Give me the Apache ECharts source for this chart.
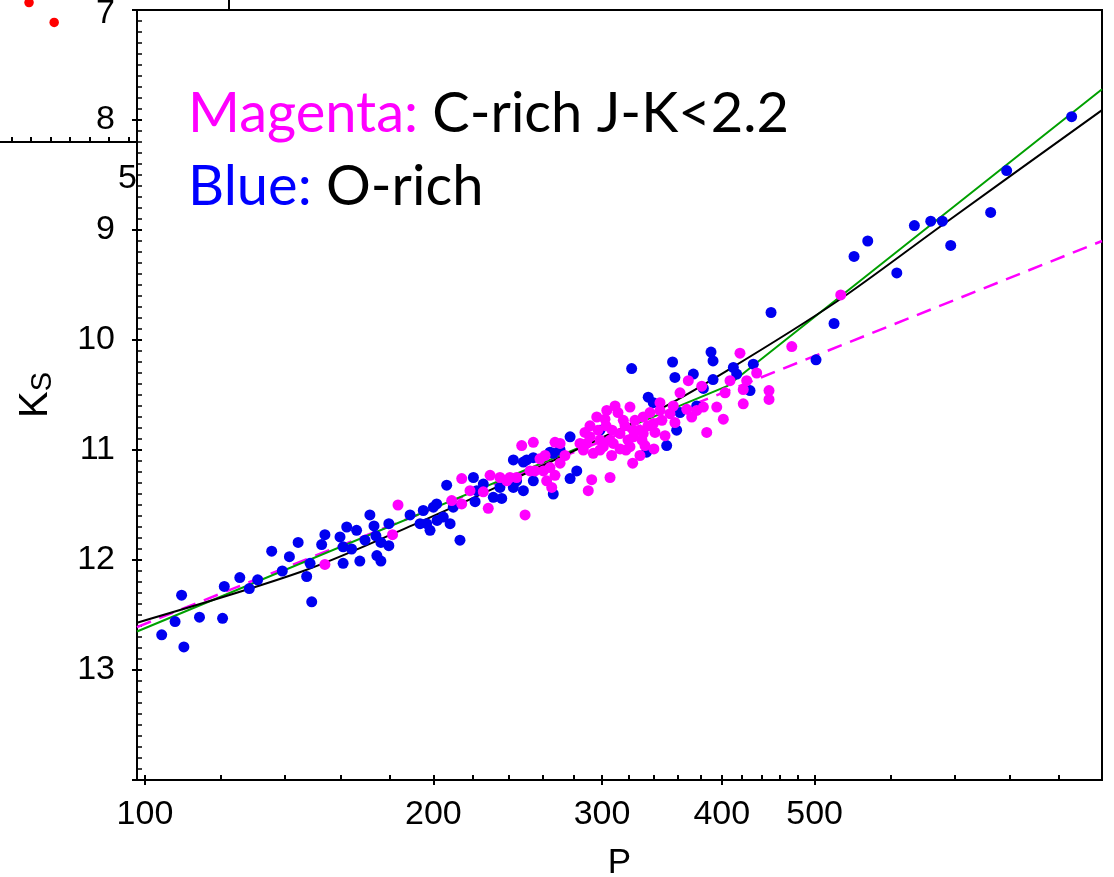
<!DOCTYPE html>
<html><head><meta charset="utf-8">
<script src="https://cdn.jsdelivr.net/npm/echarts@6/dist/echarts.min.js"></script>
<style>html,body{margin:0;padding:0;background:#fff}#c{width:1114px;height:877px}</style>
</head><body><div id="c"></div>
<script>
// ---- axis ticks ----
const periodMajorTicks = [100, 200, 300, 400, 500];
const periodMinorTicks = [120,140,160,180,220,240,260,280,320,340,360,380,420,440,460,480,600,700,800,900];
const ksTicks = [8, 9, 10, 11, 12, 13];   // 7 is drawn separately (its label sits partly off the top edge)

// ---- O-rich (blue) ----
const oRichP = [104.1,107.5,109.2,109.8,114.0,120.5,121.0,125.6,128.5,131.1,135.6,139.1,141.5,144.5,147.5,149.3,148.7,152.9,154.1,159.8,161.0,162.4,166.3,167.6,164.3,161.0,171.7,173.4,174.2,176.3,179.7,179.7,174.6,176.3,189.1,195.2,196.8,198.4,201.6,204.8,208.2,209.8,213.2,206.5,200.0,193.7,221.1,220.2,222.0,225.5,231.0,234.7,242.4,242.4,244.3,248.3,248.3,254.3,254.3,266.8,264.7,271.2,277.8,282.3,277.8,266.8,235.7,250.3,298.5,333.9,350.4,358.9,339.3,335.2,322.1,355.4,357.4,389.8,391.7,391.7,373.6,411.3,431.5,414.6,428.1,382.7,376.6,361.8,450.3,501.7,523.9,549.7,568.1,609.2,635.5,661.0,679.7,693.5,763.4,793.3,927.4,201.8,169.7];
const oRichK = [12.68,12.56,12.32,12.79,12.52,12.53,12.24,12.16,12.26,12.18,11.92,12.10,11.97,11.84,12.15,12.38,12.03,11.86,11.77,11.79,12.03,11.70,11.73,12.01,11.90,11.88,11.59,11.69,11.78,11.84,11.67,11.87,11.96,12.01,11.59,11.55,11.67,11.73,11.49,11.61,11.67,11.52,11.82,11.32,11.52,11.67,11.47,11.25,11.37,11.31,11.43,11.34,11.34,11.09,11.28,11.37,11.11,11.07,11.28,11.40,11.02,11.00,10.88,11.19,11.26,11.03,11.44,11.09,10.82,11.02,10.96,10.82,10.57,10.52,10.26,10.20,10.34,10.11,10.19,10.36,10.31,10.25,10.22,10.31,10.46,10.44,10.60,10.66,9.75,10.18,9.85,9.24,9.10,9.39,8.96,8.92,8.92,9.14,8.84,8.46,7.97,11.64,11.82];

// ---- C-rich J-K<2.2 (magenta) ----
const cRichP = [154.1,181.3,183.7,209.0,214.1,218.4,214.1,225.5,228.2,229.2,234.7,240.4,249.3,247.3,254.3,267.9,271.2,258.4,264.7,260.5,255.3,262.6,265.8,244.3,238.6,271.2,284.5,291.4,296.2,303.4,320.8,315.7,328.6,308.2,293.7,286.8,300.9,313.2,323.4,331.2,344.8,353.2,356.0,322.9,305.8,292.6,290.2,339.8,289.1,307.0,298.5,336.6,339.3,320.8,331.2,344.8,361.8,369.1,367.7,372.1,376.6,381.2,382.7,385.8,395.2,401.5,403.2,408.0,424.7,421.2,421.2,417.9,435.0,448.1,448.1,473.3,532.4,323.4,317.7,302.9,332.6,
  291.4,297.1,302.1,307.3,311.7,317.0,319.3,324.7,330.2,335.0,340.7,346.4,305.8,313.2,328.6,298.5,309.5,349.0,357.4,287.9,261.6,267.9,252.3,274.4];
const cRichK = [12.04,11.77,11.50,11.46,11.49,11.37,11.26,11.38,11.53,11.23,11.25,11.25,11.59,10.96,10.93,10.93,10.94,11.08,11.16,11.19,11.19,11.28,11.34,11.25,11.28,11.12,10.94,10.88,10.70,10.64,10.61,10.73,10.82,10.94,11.03,11.00,10.97,10.85,10.88,10.70,10.64,10.67,10.60,11.12,11.25,11.27,11.37,10.99,10.94,11.05,10.91,10.66,10.76,10.97,10.85,10.57,10.48,10.37,10.63,10.70,10.64,10.42,10.61,10.84,10.61,10.72,10.48,10.37,10.37,10.45,10.58,10.12,10.30,10.46,10.54,10.06,9.59,10.82,11.00,10.78,10.96,
  10.78,10.82,10.72,10.82,10.66,10.78,10.91,10.73,10.91,10.78,10.84,10.73,10.91,10.99,11.05,11.00,10.60,10.87,10.75,10.84,11.05,11.23,11.19,11.05];

// ---- fitted relations ----
const curveP = [98.1,146.3,190.6,240.4,339.3,404.8,527.4,675.9,997.6];
const curveK = [12.57,12.10,11.68,11.28,10.66,10.28,9.65,8.97,7.91];
const brokenP = [98.1,405.1,997.6];
const brokenK = [12.65,10.42,7.72];
const dashedP = [98.1,997.6];
const dashedK = [12.61,9.10];

// ---- fragment of the neighbouring panel (top-left) ----
const otherX = [0.89, 2.18];
const otherY = [9.82, 8.42];
const otherTicks = [0,1,2,3,4,5,6];

const zip = (a, b) => a.map((v, i) => [v, b[i]]);
const LF = 'Liberation Sans';

const chart = echarts.init(document.getElementById('c'), null, {renderer: 'canvas'});
chart.setOption({
  animation: false,
  backgroundColor: '#fff',
  grid: [
    {left: 137, top: 10, width: 965, height: 770, outerBoundsMode: 'none', containLabel: false,
     show: true, borderColor: '#000', borderWidth: 2, backgroundColor: 'transparent'},
    {left: 0, top: 0, width: 137, height: 142, outerBoundsMode: 'none', containLabel: false, show: false}
  ],
  xAxis: [
    {
      type: 'log', gridIndex: 0, min: 98.1, max: 997.6, logBase: 10,
      name: 'P', nameLocation: 'middle', nameGap: 66,
      nameTextStyle: {fontFamily: LF, fontSize: 35, color: '#000'},
      axisLine: {show: true, lineStyle: {color: '#000', width: 2}},
      axisTick: {show: true, inside: true, length: 5, lineStyle: {color: '#000', width: 2},
                 customValues: periodMajorTicks.concat(periodMinorTicks)},
      minorTick: {show: false},
      axisLabel: {show: true, customValues: periodMajorTicks, fontFamily: LF, fontSize: 34, color: '#000', margin: 18},
      splitLine: {show: false}
    },
    {
      type: 'log', gridIndex: 0, min: 98.1, max: 997.6, logBase: 10, position: 'bottom',
      axisLine: {show: false},
      axisTick: {show: true, inside: false, length: 5, lineStyle: {color: '#000', width: 2}, customValues: periodMajorTicks},
      axisLabel: {show: false},
      splitLine: {show: false}
    },
    {
      type: 'value', gridIndex: 1, min: -0.6, max: 6.43,
      axisLine: {show: true, lineStyle: {color: '#000', width: 2}},
      axisTick: {show: true, inside: true, length: 5, lineStyle: {color: '#000', width: 2}, customValues: otherTicks},
      axisLabel: {show: false},
      splitLine: {show: false}
    }
  ],
  yAxis: [
    {
      type: 'value', gridIndex: 0, min: 7, max: 14, interval: 1, inverse: true,
      name: '{k|K}{s|S}', nameLocation: 'middle', nameGap: 80,
      nameTextStyle: {fontFamily: LF, color: '#000',
        rich: {k: {fontFamily: LF, fontSize: 40, color: '#000'},
               s: {fontFamily: LF, fontSize: 29, color: '#000', padding: [14, 0, 0, 0]}}},
      axisLine: {show: true, lineStyle: {color: '#000', width: 2}},
      axisTick: {show: true, inside: true, length: 5, lineStyle: {color: '#000', width: 2}},
      minorTick: {show: true, splitNumber: 10, length: 5, lineStyle: {color: '#000', width: 1.5}},
      axisLabel: {fontFamily: LF, fontSize: 34, color: '#000', margin: 22,
                  formatter: v => (ksTicks.indexOf(v) >= 0 ? String(v) : '')},
      splitLine: {show: false}
    },
    {
      type: 'value', gridIndex: 0, min: 7, max: 14, interval: 1, inverse: true, position: 'left',
      axisLine: {show: false},
      axisTick: {show: true, inside: false, length: 5, lineStyle: {color: '#000', width: 2}},
      axisLabel: {show: false},
      splitLine: {show: false}
    },
    {type: 'value', gridIndex: 1, min: 0, max: 10, show: false}
  ],
  series: [
    {type: 'line', xAxisIndex: 0, yAxisIndex: 0, z: 1, data: zip(dashedP, dashedK), showSymbol: false,
     lineStyle: {color: '#FF00FF', width: 2.5, type: [15, 9]}},
    {type: 'line', xAxisIndex: 0, yAxisIndex: 0, z: 1, data: zip(brokenP, brokenK), showSymbol: false,
     lineStyle: {color: '#00A000', width: 2}},
    {type: 'line', xAxisIndex: 0, yAxisIndex: 0, z: 1, data: zip(curveP, curveK), showSymbol: false,
     smooth: 0.3,
     lineStyle: {color: '#000', width: 2}},
    {type: 'scatter', name: 'O-rich', xAxisIndex: 0, yAxisIndex: 0, z: 3, data: zip(oRichP, oRichK),
     symbol: 'circle', symbolSize: 11, itemStyle: {color: '#0000F0', opacity: 1}},
    {type: 'scatter', name: 'C-rich', xAxisIndex: 0, yAxisIndex: 0, z: 4, data: zip(cRichP, cRichK),
     symbol: 'circle', symbolSize: 11, itemStyle: {color: '#FF00FF', opacity: 1}},
    {type: 'scatter', xAxisIndex: 2, yAxisIndex: 2, data: zip(otherX, otherY),
     symbol: 'circle', symbolSize: 9.5, itemStyle: {color: '#FF0000', opacity: 1}}
  ],
  graphic: [
    {type: 'text', left: 188, top: 86, z: 10,
     style: {text: '{m|Magenta:} {k|C-rich J-K<2.2}', fontFamily: 'Lato', fontSize: 56,
       rich: {m: {fontFamily: 'Lato', fontSize: 56, fill: '#FF00FF', color: '#FF00FF'},
              k: {fontFamily: 'Lato', fontSize: 56, fill: '#000', color: '#000'}}}},
    {type: 'text', left: 188, top: 159, z: 10,
     style: {text: '{b|Blue:} {k|O-rich}', fontFamily: 'Lato', fontSize: 56,
       rich: {b: {fontFamily: 'Lato', fontSize: 56, fill: '#0000FF', color: '#0000FF'},
              k: {fontFamily: 'Lato', fontSize: 56, fill: '#000', color: '#000'}}}},
    {type: 'text', right: 1114 - 115, top: -3, z: 10,
     style: {text: '7', fontFamily: LF, fontSize: 34, fill: '#000'}},
    {type: 'text', right: 1114 - 137, top: 162, z: 0,
     style: {text: '5', fontFamily: LF, fontSize: 34, fill: '#000'}},
    {type: 'line', z: 5, shape: {x1: 229, y1: 0, x2: 229, y2: 10}, style: {stroke: '#000', lineWidth: 2}}
  ]
});
</script>
</body></html>
